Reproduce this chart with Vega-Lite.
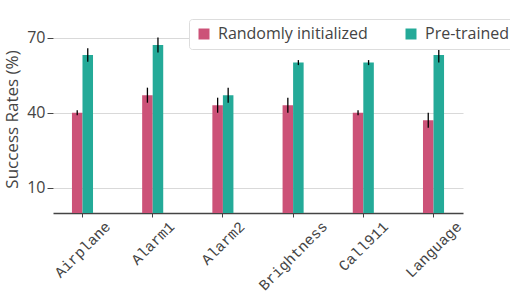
{
  "$schema": "https://vega.github.io/schema/vega-lite/v6.json",
  "width": 410,
  "height": 188,
  "autosize": {"type": "none"},
  "padding": {"left": 53, "top": 25, "right": 47, "bottom": 81},
  "config": {"view": {"stroke": null}, "font": "Open Sans"},
  "data": {
    "values": [
      {"task": "Airplane", "model": "Randomly initialized", "value": 40, "lo": 39, "hi": 41},
      {"task": "Airplane", "model": "Pre-trained", "value": 63, "lo": 60.3, "hi": 65.7},
      {"task": "Alarm1", "model": "Randomly initialized", "value": 47, "lo": 44, "hi": 50},
      {"task": "Alarm1", "model": "Pre-trained", "value": 67, "lo": 64, "hi": 70},
      {"task": "Alarm2", "model": "Randomly initialized", "value": 43, "lo": 40, "hi": 46},
      {"task": "Alarm2", "model": "Pre-trained", "value": 47, "lo": 44, "hi": 50},
      {"task": "Brightness", "model": "Randomly initialized", "value": 43, "lo": 40, "hi": 46},
      {"task": "Brightness", "model": "Pre-trained", "value": 60, "lo": 59, "hi": 61},
      {"task": "Call911", "model": "Randomly initialized", "value": 40, "lo": 39, "hi": 41},
      {"task": "Call911", "model": "Pre-trained", "value": 60, "lo": 59, "hi": 61},
      {"task": "Language", "model": "Randomly initialized", "value": 37, "lo": 34, "hi": 40},
      {"task": "Language", "model": "Pre-trained", "value": 63, "lo": 60, "hi": 66}
    ]
  },
  "encoding": {
    "x": {
      "field": "task",
      "type": "nominal",
      "sort": null,
      "scale": {"paddingInner": 0.7, "paddingOuter": 0.27},
      "axis": {
        "title": null,
        "labelAngle": -45,
        "labelAlign": "center",
        "labelBaseline": "middle",
        "labelFont": "Liberation Mono",
        "labelFontSize": 15,
        "labelColor": "#444",
        "labelPadding": {"expr": "6.5 + 3.18*length(datum.label)"},
        "tickSize": 4,
        "tickColor": "#444",
        "domainColor": "#444",
        "domainWidth": 1.5,
        "grid": false
      }
    },
    "xOffset": {
      "field": "model",
      "type": "nominal",
      "sort": ["Randomly initialized", "Pre-trained"],
      "scale": {"paddingInner": 0, "paddingOuter": 0}
    }
  },
  "layer": [
    {
      "mark": {"type": "bar"},
      "encoding": {
        "y": {
          "field": "value",
          "type": "quantitative",
          "scale": {"domain": [0, 75], "nice": false, "zero": true},
          "axis": {
            "title": "Success Rates (%)",
            "values": [10, 40, 70],
            "domain": false,
            "tickSize": 6,
            "tickColor": "#444",
            "labelFontSize": 16,
            "labelColor": "#444",
            "labelPadding": 2,
            "titleFontSize": 17,
            "titleFontWeight": "normal",
            "titleColor": "#444",
            "titlePadding": 5,
            "gridColor": "#d9d9d9"
          }
        },
        "color": {
          "field": "model",
          "type": "nominal",
          "scale": {"domain": ["Randomly initialized", "Pre-trained"], "range": ["#cc5278", "#24aa98"]},
          "legend": {
            "title": null,
            "orient": "none",
            "legendX": 136,
            "legendY": -6,
            "direction": "horizontal",
            "columns": 2,
            "symbolType": "square",
            "symbolSize": 121,
            "symbolStrokeWidth": 0,
            "symbolOpacity": 1,
            "labelFontSize": 16,
            "labelColor": "#444",
            "labelOffset": 6,
            "labelLimit": 300,
            "columnPadding": 35,
            "padding": 7,
            "strokeColor": "#ddd",
            "fillColor": "white",
            "cornerRadius": 3
          }
        }
      }
    },
    {
      "mark": {"type": "rule", "color": "black", "strokeWidth": 1.3},
      "encoding": {
        "y": {"field": "lo", "type": "quantitative"},
        "y2": {"field": "hi"}
      }
    }
  ]
}
